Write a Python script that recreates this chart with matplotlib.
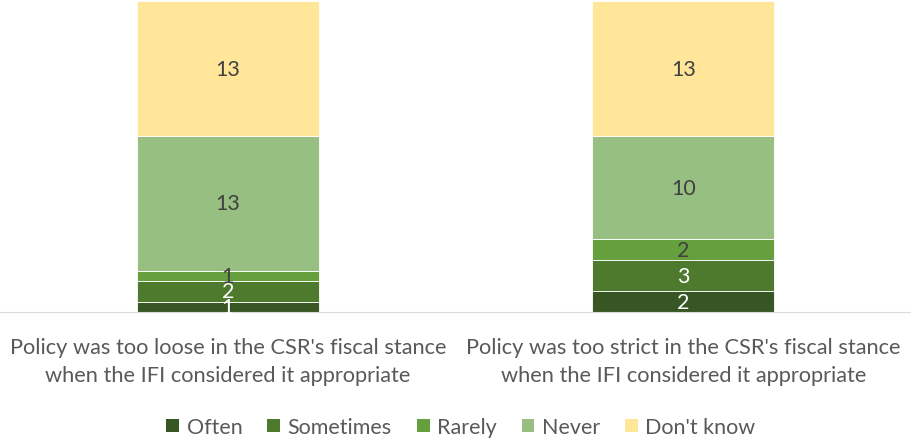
import numpy as np
import matplotlib.pyplot as plt
from matplotlib.patches import Patch

# stacked bars, two questions, IFI survey answers
categories = ["Policy was too loose in the CSR's fiscal stance\nwhen the IFI considered it appropriate",
              "Policy was too strict in the CSR's fiscal stance\nwhen the IFI considered it appropriate"]
series = ["Often", "Sometimes", "Rarely", "Never", "Don't know"]
often = [1, 2]
sometimes = [2, 3]
rarely = [1, 2]
never = [13, 10]
dont_know = [13, 13]

colors = ['#375623', '#4E7A2E', '#66A03E', '#97BF82', '#FFE699']
label_colors = ['white', 'white', '#404040', '#404040', '#404040']

plt.rcParams['font.family'] = ['Lato', 'DejaVu Sans']

fig = plt.figure(figsize=(9.11, 4.39), dpi=100)
ax = fig.add_axes([0, 0.287, 1, 0.708])

x = np.arange(len(categories))
bottom = np.zeros(len(categories))
for name, vals, c, lc in zip(series, [often, sometimes, rarely, never, dont_know], colors, label_colors):
    vals = np.array(vals, dtype=float)
    ax.bar(x, vals, 0.4, bottom=bottom, color=c, edgecolor='white', linewidth=0.6, label=name)
    for xi, b, v in zip(x, bottom, vals):
        ax.text(xi, b + v / 2, str(int(v)), ha='center', va='center', fontsize=15.5, color=lc)
    bottom += vals

ax.set_xlim(-0.5, 1.5)
ax.set_ylim(0, 30)
ax.set_yticks([])
ax.set_xticks(x)
ax.set_xticklabels(categories, fontsize=15.7, color='#595959', linespacing=1.5)
ax.tick_params(axis='x', length=0, pad=18)
for s in ['top', 'left', 'right']:
    ax.spines[s].set_visible(False)
ax.spines['bottom'].set_color('#D9D9D9')

handles = [Patch(facecolor=c, edgecolor='none') for c in colors]
fig.legend(handles, series, loc='center', bbox_to_anchor=(0.506, 0.025), ncol=5, frameon=False,
           fontsize=15.5, labelcolor='#595959', handlelength=0.6, handleheight=0.6,
           handletextpad=0.35, columnspacing=1.15)

fig.savefig('out.png', dpi=100)
